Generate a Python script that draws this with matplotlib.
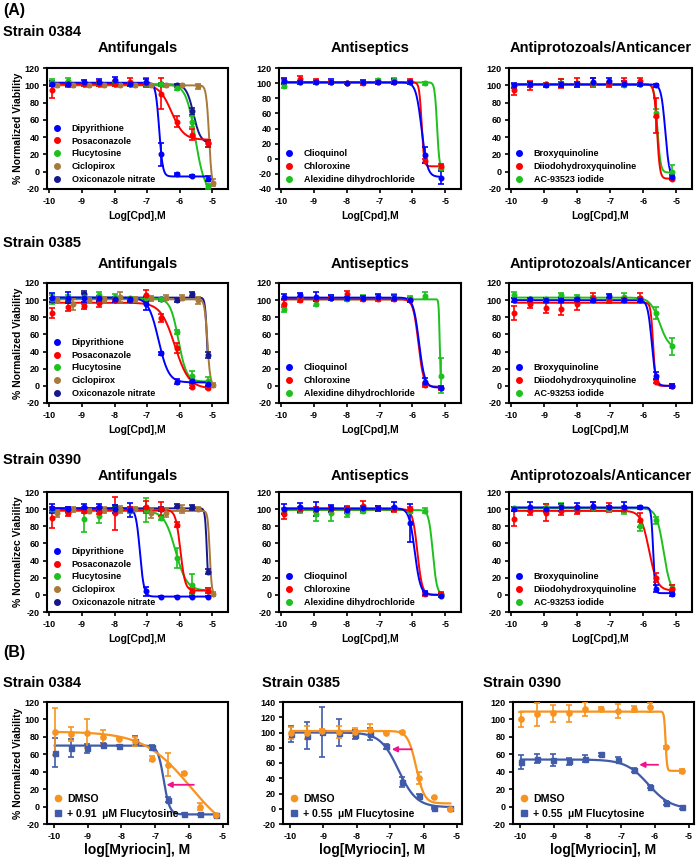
import numpy as np
import matplotlib
matplotlib.use('Agg')
import matplotlib.pyplot as plt
from matplotlib.lines import Line2D

plt.rcParams['font.family'] = ['Liberation Sans', 'DejaVu Sans']
plt.rcParams['font.weight'] = 'bold'
plt.rcParams['axes.unicode_minus'] = False

W, H = 696, 858

# ---------------- data ----------------
X_DOSE = [-9.91, -9.43, -8.95, -8.48, -8.00, -7.52, -7.04, -6.57, -6.09, -5.61, -5.14]
X_CICLO = [-9.75, -9.27, -8.79, -8.32, -7.84, -7.36, -6.88, -6.41, -5.93, -5.45, -4.98]
X_MYR = [-9.97, -9.49, -9.02, -8.54, -8.06, -7.59, -7.11, -6.63, -6.15, -5.68, -5.20]

AF_NAMES = ['Dipyrithione', 'Posaconazole', 'Flucytosine', 'Ciclopirox', 'Oxiconazole nitrate']
AF_COLORS = ['#0000FF', '#FF0000', '#1EC01E', '#A8793A', '#16178C']
AS_NAMES = ['Clioquinol', 'Chloroxine', 'Alexidine dihydrochloride']
AP_NAMES_0384 = ['Broxyquinoline', 'Diiodohydroxyquinoline', 'AC-93523 iodide']
AP_NAMES = ['Broxyquinoline', 'Diiodohydroxyquinoline', 'AC-93253 iodide']
TRIO_COLORS = ['#0000FF', '#FF0000', '#1EC01E']

# fit parameters: (top, bottom, logIC50, hill)
AF0384_Y = [[102, 101, 104, 104, 106, 101, 104, 20, -3, -5, -8],
            [95, 101, 101, 102, 102, 104, 103, 90, 58, 43, 33],
            [104, 105, 101, 101, 101, 101, 101, 101, 97, 58, -17],
            [100, 100, 100, 100, 100, 100, 100, 100, 100, 99, -13],
            [101, 101, 101, 101, 101, 101, 101, 101, 100, 70, 33]]
AF0384_E = [[3, 2, 2, 3, 4, 2, 3, 13, 1, 1, 3],
            [10, 3, 2, 3, 3, 4, 5, 18, 6, 6, 4],
            [3, 3, 2, 2, 2, 2, 2, 2, 2, 6, 3],
            [2, 2, 2, 2, 2, 2, 2, 2, 2, 3, 4],
            [2, 2, 2, 2, 2, 2, 2, 2, 2, 4, 4]]
AF0384_FIT = [(103, -5.5, -6.63, 8), (101, 37, -6.25, 2.3), (101, -25, -5.52, 3),
              (100, -20, -5.10, 10), (101, 33, -5.58, 4)]

AS0384_Y = [[103, 101, 101, 102, 100, 102, 101, 102, 101, 5, -25],
            [103, 106, 103, 101, 100, 100, 101, 101, 103, -3, -10],
            [96, 101, 101, 101, 100, 101, 104, 104, 101, 100, -12]]
AS0384_E = [[4, 2, 2, 3, 1, 2, 2, 3, 2, 10, 9],
            [3, 3, 2, 2, 1, 2, 2, 2, 2, 3, 3],
            [3, 2, 2, 2, 1, 2, 2, 3, 2, 2, 3]]
AS0384_FIT = [(101, -24, -5.72, 5), (101, -10, -5.72, 12), (101, -15, -5.25, 12)]

AP0384_Y = [[100, 101, 100, 101, 101, 104, 105, 102, 101, 100, -6],
            [95, 100, 101, 102, 103, 103, 101, 104, 105, 65, -8],
            [100, 101, 101, 103, 102, 101, 101, 100, 101, 68, 0]]
AP0384_E = [[3, 3, 2, 3, 3, 4, 4, 3, 2, 2, 2],
            [6, 5, 2, 5, 5, 5, 3, 4, 4, 20, 2],
            [2, 2, 2, 4, 2, 2, 2, 2, 2, 5, 8]]
AP0384_FIT = [(101, -8, -5.33, 7), (101, -8, -5.58, 10), (101, -1, -5.57, 9)]

AF0385_Y = [[103, 103, 103, 102, 101, 101, 96, 38, 5, 6, 2],
            [85, 92, 93, 97, 100, 101, 106, 79, 44, -1, -2],
            [101, 103, 104, 106, 104, 102, 103, 101, 63, 12, 6],
            [100, 95, 100, 101, 104, 101, 102, 103, 103, 100, 1],
            [100, 100, 107, 100, 100, 100, 100, 101, 100, 107, 36]]
AF0385_E = [[5, 6, 5, 3, 3, 2, 8, 2, 3, 3, 2],
            [6, 5, 3, 5, 2, 2, 6, 5, 6, 2, 2],
            [5, 3, 3, 4, 3, 2, 2, 2, 2, 5, 4],
            [3, 6, 3, 3, 6, 3, 3, 3, 3, 4, 2],
            [2, 2, 4, 2, 2, 2, 2, 2, 2, 2, 3]]
AF0385_FIT = [(103, 4, -6.65, 2.8), (97, -3, -6.15, 2), (102, 5, -6.04, 3.5),
              (101, 0, -5.15, 10), (103, -3, -5.16, 14)]

AS0385_Y = [[104, 106, 104, 103, 102, 103, 104, 103, 100, 5, -2],
            [96, 100, 101, 103, 107, 101, 101, 101, 100, 1, -3],
            [90, 102, 96, 103, 101, 103, 103, 103, 103, 105, 12]]
AS0385_E = [[3, 2, 5, 3, 2, 2, 3, 3, 2, 4, 2],
            [4, 2, 2, 2, 4, 2, 2, 2, 2, 2, 2],
            [4, 2, 3, 3, 2, 3, 3, 4, 2, 4, 20]]
AS0385_FIT = [(103, -2, -5.80, 5), (101, -1, -5.82, 5.5), (101, -2, -5.17, 30)]

AP0385_Y = [[100, 101, 100, 100, 101, 100, 105, 100, 100, 12, 0],
            [85, 95, 91, 90, 95, 103, 100, 101, 103, 5, 0],
            [106, 101, 101, 106, 104, 103, 101, 104, 102, 85, 46]]
AP0385_E = [[2, 2, 2, 2, 2, 2, 2, 2, 2, 4, 2],
            [8, 4, 6, 7, 7, 5, 3, 2, 5, 2, 2],
            [3, 2, 2, 2, 2, 2, 2, 4, 2, 7, 10]]
AP0385_FIT = [(100, 0, -5.74, 7), (97, 0, -5.70, 12), (103, 43, -5.50, 3)]

AF0390_Y = [[101, 100, 103, 102, 100, 99, 4, -2, -2, -2, -2],
            [90, 96, 98, 97, 95, 100, 103, 100, 82, 5, 5],
            [100, 98, 88, 92, 100, 98, 99, 90, 43, 12, 5],
            [95, 100, 98, 99, 100, 100, 95, 96, 100, 100, 1],
            [100, 100, 101, 101, 103, 100, 100, 100, 104, 102, 27]]
AF0390_E = [[5, 3, 3, 4, 5, 8, 5, 1, 1, 1, 1],
            [12, 4, 3, 3, 19, 3, 7, 8, 3, 3, 3],
            [3, 3, 15, 8, 4, 3, 14, 3, 12, 12, 3],
            [4, 3, 2, 3, 4, 2, 5, 5, 5, 2, 2],
            [2, 2, 2, 2, 2, 2, 2, 2, 2, 3, 3]]
AF0390_FIT = [(101, -2, -7.22, 7), (99, 5, -5.98, 6), (98, 5, -6.13, 2.5),
              (98, 0, -5.08, 14), (101, -5, -5.165, 15)]

AS0390_Y = [[100, 102, 100, 101, 99, 101, 101, 103, 84, 2, -1],
            [94, 100, 100, 100, 101, 104, 101, 100, 100, 1, 1],
            [98, 99, 94, 95, 96, 98, 101, 100, 98, 98, 0]]
AS0390_E = [[6, 5, 8, 4, 3, 3, 3, 5, 22, 2, 2],
            [6, 3, 3, 3, 3, 6, 3, 3, 3, 2, 2],
            [3, 3, 8, 9, 5, 3, 3, 2, 3, 3, 2]]
AS0390_FIT = [(101, 0, -5.93, 5), (100, 0, -5.85, 6), (99, 0, -5.38, 7)]

AP0390_Y = [[100, 103, 100, 102, 103, 104, 102, 103, 102, 7, 1],
            [89, 98, 96, 98, 98, 103, 102, 100, 87, 20, 7],
            [101, 100, 103, 104, 100, 101, 100, 99, 80, 87, 8]]
AP0390_E = [[2, 5, 3, 4, 4, 4, 2, 5, 2, 4, 2],
            [9, 5, 10, 5, 4, 5, 5, 3, 8, 5, 4],
            [2, 2, 3, 3, 2, 2, 2, 5, 5, 4, 3]]
AP0390_FIT = [(102, 2, -5.70, 15), (98, 5, -5.82, 3.5), (101, 0, -5.38, 4)]

# Panel B (myriocin)
MYR_LABELS = ['DMSO', '+ 0.91  \u00b5M Flucytosine', '+ 0.55  \u00b5M Flucytosine']
MYR_COLORS = ['#F7931E', '#3F5BAA']
M0384_DMSO_Y = [86, 83, 84, 80, 78, 75, 55, 48, 38, 0, -10]
M0384_DMSO_E = [27, 8, 17, 8, 1, 5, 3, 13, 2, 4, 2]
M0384_FLU_Y = [62, 67, 67, 71, 70, 75, 68, 8, -8, -9, -10]
M0384_FLU_E = [17, 10, 5, 2, 1, 6, 3, 3, 1, 1, 1]
M0384_FIT = [(86, -40, -5.97, 0.63), (70, -9, -6.75, 5)]
M0385_DMSO_Y = [99, 100, 102, 101, 101, 103, 100, 101, 40, 15, 0]
M0385_DMSO_E = [8, 8, 2, 8, 5, 8, 1, 1, 8, 1, 1]
M0385_FLU_Y = [98, 96, 101, 100, 97, 98, 82, 35, 17, 1, 1]
M0385_FLU_E = [10, 18, 33, 18, 6, 8, 3, 6, 3, 1, 1]
M0385_FIT = [(102, 7, -6.22, 3.5), (100, 2, -6.75, 1.6)]
M0390_DMSO_Y = [100, 106, 107, 107, 112, 112, 110, 112, 114, 68, 41]
M0390_DMSO_E = [9, 13, 10, 10, 8, 2, 8, 3, 5, 2, 2]
M0390_FLU_Y = [51, 55, 53, 52, 55, 60, 54, 42, 23, 4, -1]
M0390_FLU_E = [8, 5, 7, 4, 4, 2, 3, 2, 2, 2, 2]
M0390_FIT = [(109, 41, -5.69, 20), (54, -3, -6.2, 1.3)]
ARROWS = [(-5.86, -6.67, 25), (-6.36, -6.95, 78), (-5.91, -6.47, 48)]

# ---------------- helpers ----------------
fig = plt.figure(figsize=(W / 100, H / 100), dpi=100)


def add_ax(l, t, r, b):
    return fig.add_axes([l / W, 1 - b / H, (r - l) / W, (b - t) / H])


def ftext(x, y, s, size, ha='left'):
    fig.text(x / W, 1 - y / H, s, fontsize=size, fontweight='bold', ha=ha, va='center')


def logistic(xs, p):
    top, bot, c, h = p
    return bot + (top - bot) / (1 + 10 ** ((xs - c) * h))


def style(ax, ylim, xlim, tsize=6.5):
    ax.set_xlim(*xlim)
    ax.set_ylim(*ylim)
    ax.set_xticks(range(-10, -4))
    ax.set_yticks(range(ylim[0], ylim[1] + 1, 20))
    for s in ax.spines.values():
        s.set_linewidth(1.5)
    ax.tick_params(direction='out', length=3, width=1.2, labelsize=tsize, pad=2.5)
    for lab in ax.get_xticklabels() + ax.get_yticklabels():
        lab.set_fontweight('bold')


def dose_panel(ax, names, colors, ys, es, fits, ylim, xs_list, ylabel=None):
    for i in reversed(range(len(names))):
        xs = np.array(xs_list[i])
        xx = np.linspace(xs[0], xs[-1], 400)
        ax.plot(xx, logistic(xx, fits[i]), color=colors[i], lw=1.4, zorder=2)
        ax.errorbar(xs, ys[i], yerr=es[i], fmt='o', color=colors[i], ms=3.3,
                    capsize=2.2, elinewidth=1.2, capthick=1.2, zorder=3)
    style(ax, ylim, (-10.07, -4.52))
    handles = [Line2D([], [], marker='o', ls='none', color=c, ms=4) for c in colors]
    ax.legend(handles, names, loc='lower left', frameon=False, prop={'size': 6.5, 'weight': 'bold'},
              handletextpad=1.0, labelspacing=0.42, borderaxespad=0.25, borderpad=0.3,
              handlelength=1.2)
    ax.set_xlabel('Log[Cpd],M', fontsize=7.5, fontweight='bold', labelpad=4)
    if ylabel:
        ax.set_ylabel(ylabel, fontsize=7.5, fontweight='bold', labelpad=1)


# ---------------- layout ----------------
COLS_A = [(47, 228), (279, 461), (509, 692)]
ROWS_A = [(68, 189), (283, 403), (492, 612)]
TITLES = ['Antifungals', 'Antiseptics', 'Antiprotozoals/Anticancer']
TITLE_Y = [48, 264, 476]
STRAIN_Y = [32, 243, 460]
STRAINS = ['Strain 0384', 'Strain 0385', 'Strain 0390']
YLABELS = ['% Normalized Viability', '% Normalized Viability', '% Normalizec Viability']

panels = [
    [(AF_NAMES, AF_COLORS, AF0384_Y, AF0384_E, AF0384_FIT, (-20, 120)),
     (AS_NAMES, TRIO_COLORS, AS0384_Y, AS0384_E, AS0384_FIT, (-40, 120)),
     (AP_NAMES_0384, TRIO_COLORS, AP0384_Y, AP0384_E, AP0384_FIT, (-20, 120))],
    [(AF_NAMES, AF_COLORS, AF0385_Y, AF0385_E, AF0385_FIT, (-20, 120)),
     (AS_NAMES, TRIO_COLORS, AS0385_Y, AS0385_E, AS0385_FIT, (-20, 120)),
     (AP_NAMES, TRIO_COLORS, AP0385_Y, AP0385_E, AP0385_FIT, (-20, 120))],
    [(AF_NAMES, AF_COLORS, AF0390_Y, AF0390_E, AF0390_FIT, (-20, 120)),
     (AS_NAMES, TRIO_COLORS, AS0390_Y, AS0390_E, AS0390_FIT, (-20, 120)),
     (AP_NAMES, TRIO_COLORS, AP0390_Y, AP0390_E, AP0390_FIT, (-20, 120))],
]

ftext(3, 10, '(A)', 11.5)
for r in range(3):
    ftext(3, STRAIN_Y[r], STRAINS[r], 10.5)
    for c in range(3):
        names, colors, ys, es, fits, ylim = panels[r][c]
        l, rr = COLS_A[c]
        t, b = ROWS_A[r]
        ax = add_ax(l, t, rr, b)
        xs_list = [X_CICLO if n == 'Ciclopirox' else X_DOSE for n in names]
        dose_panel(ax, names, colors, ys, es, fits, ylim, xs_list,
                   ylabel=YLABELS[r] if c == 0 else None)
        ftext((l + rr) / 2, TITLE_Y[r], TITLES[c], 10.5, ha='center')

# ---------------- panel B ----------------
ftext(3, 652, '(B)', 11.5)
COLS_B = [(47, 228), (283, 462), (513, 694)]
B_STRAIN_X = [3, 262, 483]
B_STRAINS = ['Strain 0384', 'Strain 0385', 'Strain 0390']
B_YLIMS = [(-20, 120), (-20, 140), (-20, 120)]
B_DATA = [
    (M0384_DMSO_Y, M0384_DMSO_E, M0384_FLU_Y, M0384_FLU_E, M0384_FIT, MYR_LABELS[1]),
    (M0385_DMSO_Y, M0385_DMSO_E, M0385_FLU_Y, M0385_FLU_E, M0385_FIT, MYR_LABELS[2]),
    (M0390_DMSO_Y, M0390_DMSO_E, M0390_FLU_Y, M0390_FLU_E, M0390_FIT, MYR_LABELS[2]),
]
for i in range(3):
    l, rr = COLS_B[i]
    ax = add_ax(l, 702, rr, 824)
    dy, de, fy, fe, fits, flab = B_DATA[i]
    xs = np.array(X_MYR)
    xx = np.linspace(xs[0], xs[-1], 400)
    ax.plot(xx, logistic(xx, fits[1]), color=MYR_COLORS[1], lw=1.6, zorder=2)
    ax.plot(xx, logistic(xx, fits[0]), color=MYR_COLORS[0], lw=1.6, zorder=2)
    ax.errorbar(xs, fy, yerr=fe, fmt='s', color=MYR_COLORS[1], ms=3.6,
                capsize=2.2, elinewidth=1.2, capthick=1.2, zorder=3)
    ax.errorbar(xs, dy, yerr=de, fmt='o', color=MYR_COLORS[0], ms=3.8,
                capsize=2.2, elinewidth=1.2, capthick=1.2, zorder=3)
    x0, x1, ya = ARROWS[i]
    ax.annotate('', xy=(x1, ya), xytext=(x0, ya),
                arrowprops=dict(arrowstyle='-|>', color='#F0148C', lw=1.3,
                                mutation_scale=8, shrinkA=0, shrinkB=0), zorder=4)
    style(ax, B_YLIMS[i], (-10.2, -4.85), tsize=6.5)
    handles = [Line2D([], [], marker='o', ls='none', color=MYR_COLORS[0], ms=4.5),
               Line2D([], [], marker='s', ls='none', color=MYR_COLORS[1], ms=4.5)]
    ax.legend(handles, [MYR_LABELS[0], flab], loc='lower left', frameon=False,
              prop={'size': 7.6, 'weight': 'bold'}, handletextpad=0.4, labelspacing=0.45,
              borderaxespad=0.2, borderpad=0.3, handlelength=1.0)
    ax.set_xlabel('log[Myriocin], M', fontsize=10, fontweight='bold', labelpad=2)
    if i == 0:
        ax.set_ylabel('% Normalized Viability', fontsize=7.5, fontweight='bold', labelpad=1)
    ftext(B_STRAIN_X[i], 683, B_STRAINS[i], 10.5)

fig.savefig('out.png', dpi=100)
